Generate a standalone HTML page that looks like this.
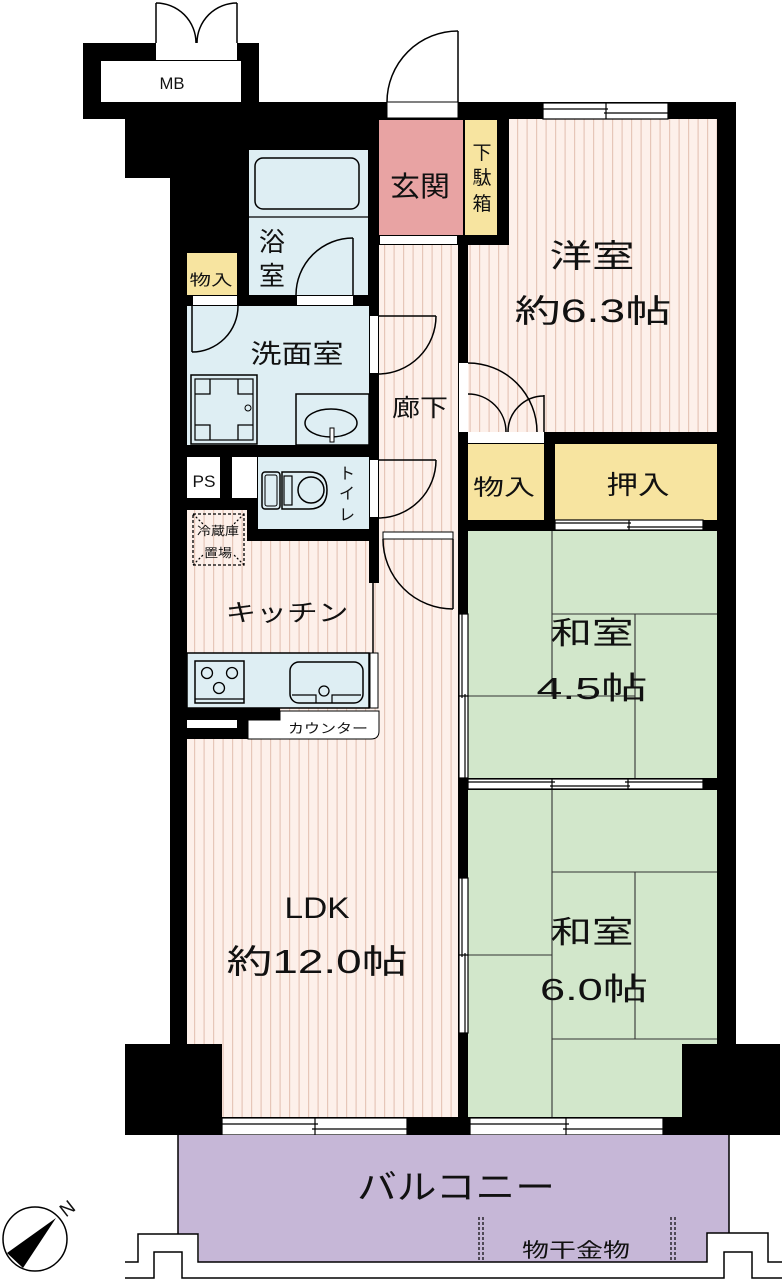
<!DOCTYPE html>
<html><head><meta charset="utf-8"><style>
html,body{margin:0;padding:0;background:#fff;}
svg{display:block;}
text{font-family:"Liberation Sans","Noto Sans CJK JP",sans-serif;fill:#111;}
</style></head><body>
<svg width="782" height="1280" viewBox="0 0 782 1280" xmlns="http://www.w3.org/2000/svg">
<defs>
<pattern id="st" width="9.5" height="10" patternUnits="userSpaceOnUse">
<rect width="9.5" height="10" fill="#fdf0ea"/><rect x="4" width="1.2" height="10" fill="#e6c6b8"/>
</pattern>
</defs>
<rect width="782" height="1280" fill="#fff"/>

<!-- building footprint -->
<polygon points="83,43 259,43 259,102 736,102 736,1044 780,1044 780,1135 125,1135 125,1044 170,1044 170,178 125,178 125,119 83,119" fill="#000"/>

<!-- MB -->
<rect x="101" y="61" width="140" height="41" fill="#fff"/>
<rect x="156" y="43" width="81" height="17" fill="#fff"/>
<line x1="156" y1="3" x2="156" y2="43" stroke="#000" stroke-width="1.5"/>
<line x1="237" y1="3" x2="237" y2="43" stroke="#000" stroke-width="1.5"/>
<path d="M156,3 A40,40 0 0 1 196,43 M237,3 A40,40 0 0 0 197,43" fill="none" stroke="#000" stroke-width="1.5"/>
<text x="172" y="89" font-size="17" text-anchor="middle" textLength="25" lengthAdjust="spacingAndGlyphs">MB</text>

<!-- entry door -->
<rect x="387" y="102" width="71" height="16" fill="#fff" stroke="#000" stroke-width="1"/>
<line x1="458" y1="31" x2="458" y2="102" stroke="#000" stroke-width="1.5"/>
<path d="M458,31 A71,71 0 0 0 387,102" fill="none" stroke="#000" stroke-width="1.5"/>

<!-- bath -->
<rect x="249" y="150" width="119" height="145" fill="#deeef3"/>
<rect x="255" y="158" width="104" height="51" rx="8" fill="#deeef3" stroke="#000" stroke-width="1.5"/>
<line x1="249" y1="217" x2="368" y2="217" stroke="#000" stroke-width="1.3"/>
<line x1="353" y1="238" x2="353" y2="295" stroke="#000" stroke-width="1.5"/>
<path d="M353,238 A57,57 0 0 0 296,295" fill="none" stroke="#000" stroke-width="1.5"/>
<text x="272" y="251" font-size="26" text-anchor="middle">浴</text>
<text x="272" y="285" font-size="26" text-anchor="middle">室</text>
<rect x="193" y="296" width="44" height="9" fill="#fff"/>
<rect x="297" y="296" width="56" height="9" fill="#fff"/>

<!-- small storage -->
<rect x="187" y="253" width="50" height="42" fill="#f7e4a0"/>
<text x="211" y="285" font-size="15" text-anchor="middle" textLength="43" lengthAdjust="spacingAndGlyphs">物入</text>

<!-- genkan -->
<rect x="379" y="120" width="84" height="115" fill="#e8a3a3"/>
<text x="420" y="196" font-size="28" text-anchor="middle" textLength="60" lengthAdjust="spacingAndGlyphs">玄関</text>
<rect x="465" y="120" width="32" height="115" fill="#f7e4a0"/>
<text x="482" y="159" font-size="19" text-anchor="middle">下</text>
<text x="482" y="184" font-size="19" text-anchor="middle">駄</text>
<text x="482" y="210" font-size="19" text-anchor="middle">箱</text>
<rect x="380" y="236" width="77" height="8" fill="#fff"/>

<!-- western room -->
<polygon points="509,119 717,119 717,432 468,432 468,245 509,245" fill="url(#st)"/>
<text x="592" y="267" font-size="32" text-anchor="middle" textLength="85" lengthAdjust="spacingAndGlyphs">洋室</text>
<text x="593" y="322" font-size="32" text-anchor="middle" textLength="157" lengthAdjust="spacingAndGlyphs">約6.3帖</text>

<!-- corridor + LDK pink -->
<polygon points="378,245 458,245 458,1117 222,1117 222,1044 187,1044 187,510 247,510 247,541 378,541" fill="url(#st)"/>
<rect x="369" y="245" width="10" height="338" fill="#000"/>
<line x1="373" y1="583" x2="373" y2="653" stroke="#000" stroke-width="1.5"/>
<rect x="383" y="532" width="70" height="7" fill="#fff" stroke="#000" stroke-width="1"/>
<text x="420" y="416" font-size="24" text-anchor="middle" textLength="56" lengthAdjust="spacingAndGlyphs">廊下</text>

<!-- corridor doors -->
<rect x="370" y="316" width="8" height="57" fill="#fff"/>
<line x1="378" y1="316" x2="436" y2="316" stroke="#000" stroke-width="1.5"/>
<path d="M436,316 A58,58 0 0 1 378,374" fill="none" stroke="#000" stroke-width="1.5"/>
<rect x="370" y="460" width="8" height="57" fill="#fff"/>
<line x1="378" y1="460" x2="436" y2="460" stroke="#000" stroke-width="1.5"/>
<path d="M436,460 A58,58 0 0 1 378,518" fill="none" stroke="#000" stroke-width="1.5"/>

<!-- western room door & closet doors -->
<rect x="459" y="363" width="9" height="69" fill="#fff"/>
<path d="M468,363 A69,69 0 0 1 537,432" fill="none" stroke="#000" stroke-width="1.5"/>
<path d="M468,394 A38,38 0 0 1 506,432" fill="none" stroke="#000" stroke-width="1.5"/>
<line x1="544" y1="395" x2="544" y2="432" stroke="#000" stroke-width="1.5"/>
<path d="M544,396 A36,36 0 0 0 508,432" fill="none" stroke="#000" stroke-width="1.5"/>
<rect x="468" y="432" width="76" height="11" fill="#fff"/>

<!-- closets -->
<rect x="468" y="444" width="76" height="76" fill="#f7e4a0"/>
<text x="504" y="495" font-size="22" text-anchor="middle" textLength="62" lengthAdjust="spacingAndGlyphs">物入</text>
<rect x="555" y="444" width="162" height="76" fill="#f7e4a0"/>
<text x="638" y="494" font-size="26" text-anchor="middle" textLength="63" lengthAdjust="spacingAndGlyphs">押入</text>

<!-- washroom -->
<rect x="187" y="306" width="182" height="139" fill="#deeef3"/>
<line x1="192" y1="306" x2="192" y2="352" stroke="#000" stroke-width="1.5"/>
<path d="M192,352 A46,46 0 0 0 238,306" fill="none" stroke="#000" stroke-width="1.5"/>
<rect x="191" y="375" width="66" height="69" fill="#deeef3" stroke="#000" stroke-width="1.5"/>
<rect x="195" y="379" width="58" height="61" fill="none" stroke="#000" stroke-width="1.2"/>
<path d="M210,379 V394 H195 M238,379 V394 H253 M210,440 V425 H195 M238,440 V425 H253" fill="none" stroke="#000" stroke-width="1.3"/>
<circle cx="248" cy="408" r="3" fill="none" stroke="#000" stroke-width="1"/>
<rect x="296" y="394" width="73" height="51" fill="#deeef3" stroke="#000" stroke-width="1.5"/>
<ellipse cx="331" cy="423" rx="26" ry="14" fill="none" stroke="#000" stroke-width="1.5"/>
<rect x="330" y="428" width="4" height="14" fill="#fff" stroke="#000" stroke-width="1"/>
<text x="297" y="363" font-size="26" text-anchor="middle" textLength="93" lengthAdjust="spacingAndGlyphs">洗面室</text>

<!-- PS & toilet -->
<rect x="187" y="457" width="33" height="41" fill="#fff"/>
<text x="204" y="487" font-size="17" text-anchor="middle" textLength="23" lengthAdjust="spacingAndGlyphs">PS</text>
<rect x="232" y="457" width="25" height="41" fill="#fff"/>
<rect x="258" y="457" width="111" height="72" fill="#deeef3"/>
<rect x="262" y="472" width="18" height="37" rx="3" fill="#deeef3" stroke="#000" stroke-width="1.5"/>
<rect x="265" y="475" width="12" height="31" rx="2" fill="none" stroke="#000" stroke-width="1"/>
<path d="M282,472 H309 Q327,472 327,490 Q327,509 309,509 H282 Z" fill="#deeef3" stroke="#000" stroke-width="1.5"/>
<rect x="284" y="476" width="8" height="29" fill="none" stroke="#000" stroke-width="1.2"/>
<circle cx="311" cy="490" r="13" fill="none" stroke="#000" stroke-width="1.5"/>
<text x="347" y="479" font-size="16" text-anchor="middle">ト</text>
<text x="347" y="499" font-size="16" text-anchor="middle">イ</text>
<text x="347" y="520" font-size="16" text-anchor="middle">レ</text>

<!-- fridge -->
<rect x="193" y="514" width="51" height="51" fill="none" stroke="#000" stroke-width="1.3" stroke-dasharray="3 2"/>
<path d="M193,514 L203,524 M244,514 L234,524 M193,565 L203,555 M244,565 L234,555" stroke="#000" stroke-width="1.2" stroke-dasharray="2 2"/>
<text x="218" y="535" font-size="12" text-anchor="middle" textLength="42" lengthAdjust="spacingAndGlyphs">冷蔵庫</text>
<text x="218" y="557" font-size="12" text-anchor="middle" textLength="28" lengthAdjust="spacingAndGlyphs">置場</text>

<!-- kitchen -->
<text x="287" y="621" font-size="24" text-anchor="middle" textLength="123" lengthAdjust="spacingAndGlyphs">キッチン</text>
<rect x="187" y="653" width="182" height="55" fill="#deeef3" stroke="#000" stroke-width="1.5"/>
<rect x="370" y="653" width="8" height="55" fill="#fff" stroke="#000" stroke-width="1"/>
<rect x="195" y="661" width="49" height="42" fill="none" stroke="#000" stroke-width="1.5"/>
<line x1="195" y1="699" x2="244" y2="699" stroke="#000" stroke-width="1.2"/>
<circle cx="207" cy="673" r="5.5" fill="none" stroke="#000" stroke-width="1.3"/>
<circle cx="232" cy="673" r="5.5" fill="none" stroke="#000" stroke-width="1.3"/>
<circle cx="219" cy="688" r="5.5" fill="none" stroke="#000" stroke-width="1.3"/>
<rect x="290" y="662" width="73" height="41" rx="9" fill="none" stroke="#000" stroke-width="1.5"/>
<circle cx="324" cy="691" r="5" fill="none" stroke="#000" stroke-width="1.3"/>
<path d="M292,695 H316 V703 M332,703 V695 H361" fill="none" stroke="#000" stroke-width="1.2"/>
<rect x="187" y="708" width="93" height="31" fill="#000"/>
<rect x="187" y="720" width="50" height="8" fill="#fff"/>
<path d="M280,711 H379 V731 Q379,739 371,739 H248 V720 H280 Z" fill="#fff" stroke="#000" stroke-width="1"/>
<text x="328" y="733" font-size="13" text-anchor="middle" textLength="80" lengthAdjust="spacingAndGlyphs">カウンター</text>

<!-- LDK door -->
<line x1="453" y1="539" x2="453" y2="609" stroke="#000" stroke-width="1.5"/>
<path d="M383,539 A70,70 0 0 0 453,609" fill="none" stroke="#000" stroke-width="1.5"/>

<!-- LDK text -->
<text x="317" y="918" font-size="30" text-anchor="middle" textLength="65" lengthAdjust="spacingAndGlyphs">LDK</text>
<text x="317" y="973" font-size="33" text-anchor="middle" textLength="181" lengthAdjust="spacingAndGlyphs">約12.0帖</text>

<!-- washitsu 4.5 -->
<rect x="468" y="531" width="249" height="247" fill="#d2e7cb"/>
<g stroke="#333" stroke-width="1.1" fill="none">
<path d="M552,531 V696 M468,696 H635 M552,614 H717 M635,614 V778"/>
</g>
<text x="592" y="644" font-size="31" text-anchor="middle" textLength="83" lengthAdjust="spacingAndGlyphs">和室</text>
<text x="592" y="699" font-size="31" text-anchor="middle" textLength="111" lengthAdjust="spacingAndGlyphs">4.5帖</text>

<!-- washitsu 6.0 -->
<polygon points="468,790 717,790 717,1044 682,1044 682,1117 468,1117" fill="#d2e7cb"/>
<g stroke="#333" stroke-width="1.1" fill="none">
<path d="M552,790 V1117 M552,872 H717 M635,872 V1039 M552,1039 H717 M468,955 H552"/>
</g>
<text x="592" y="943" font-size="31" text-anchor="middle" textLength="83" lengthAdjust="spacingAndGlyphs">和室</text>
<text x="594" y="1000" font-size="31" text-anchor="middle" textLength="108" lengthAdjust="spacingAndGlyphs">6.0帖</text>

<!-- windows horizontal -->
<g fill="#fff" stroke="#000" stroke-width="1.2">
<rect x="543" y="103" width="125" height="16"/>
<rect x="555" y="520" width="148" height="10"/>
<rect x="468" y="779" width="235" height="10"/>
<rect x="222" y="1118" width="185" height="17"/>
<rect x="470" y="1118" width="193" height="17"/>
<rect x="459" y="614" width="9" height="164"/>
<rect x="459" y="878" width="9" height="155"/>
</g>
<g stroke="#000" stroke-width="1.2" fill="none">
<path d="M543,109 H608 M604,113 H668 M606,103 V119"/>
<path d="M555,523 H631 M627,527 H703 M629,520 V530"/>
<path d="M468,782 H555 M550,786 H630 M625,782 H703 M552,779 V789 M628,779 V789"/>
<path d="M222,1124 H318 M312,1129 H407 M315,1118 V1135"/>
<path d="M470,1124 H569 M563,1129 H663 M566,1118 V1135"/>
<path d="M462,614 V698 M465,694 V778 M459,696 H468"/>
<path d="M462,878 V957 M465,953 V1033 M459,955 H468"/>
</g>

<!-- balcony -->
<polygon points="178,1135 729,1135 729,1233 707,1233 707,1262 199,1262 199,1234 178,1234" fill="#c6b7d7"/>
<g stroke="#000" stroke-width="1.5" fill="none">
<path d="M178,1135 V1234 M729,1135 V1233"/>
<path d="M125,1262 H138 V1234 H198 V1262 H707 V1233 H768 V1262 H782"/>
<path d="M125,1278 H154 V1252 H182 V1278 H724 V1252 H752 V1278 H782"/>
</g>
<g stroke="#000" stroke-width="1.2" stroke-dasharray="3 2">
<path d="M479,1217 V1262 M483,1217 V1262 M671,1217 V1262 M675,1217 V1262"/>
</g>
<text x="456" y="1199" font-size="34" text-anchor="middle" textLength="198" lengthAdjust="spacingAndGlyphs">バルコニー</text>
<text x="576" y="1257" font-size="20" text-anchor="middle" textLength="108" lengthAdjust="spacingAndGlyphs">物干金物</text>

<!-- compass -->
<circle cx="35" cy="1239" r="32" fill="#fff" stroke="#000" stroke-width="1.5"/>
<polygon points="56,1218 7,1253 23,1268" fill="#000"/>
<text x="67" y="1215" font-size="19" text-anchor="middle" transform="rotate(-38 67 1208)">N</text>
</svg>
</body></html>
